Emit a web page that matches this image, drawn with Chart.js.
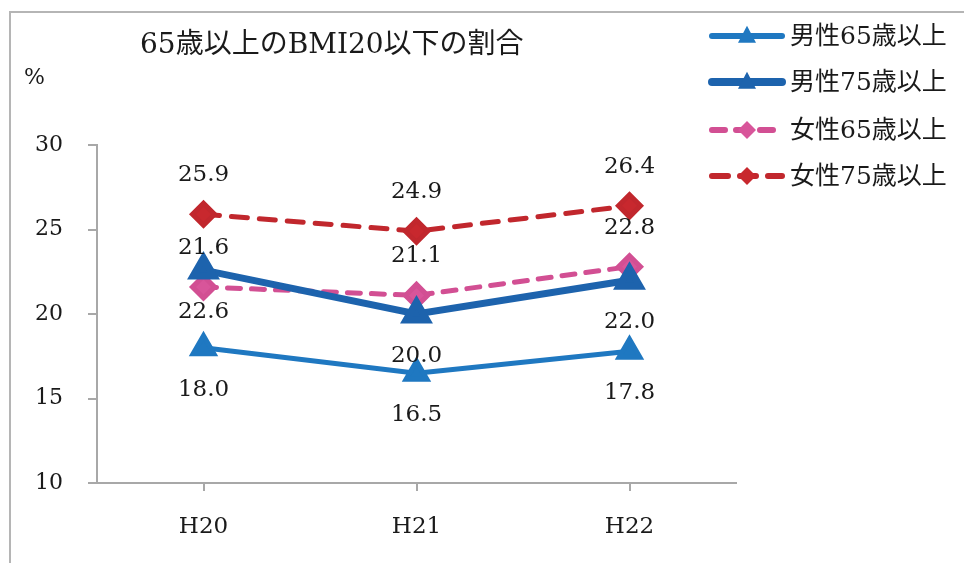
<!DOCTYPE html>
<html>
<head>
<meta charset="utf-8">
<script src="https://cdn.jsdelivr.net/npm/chart.js@4/dist/chart.umd.min.js"></script>
<style>
  html, body { margin: 0; padding: 0; background: #fff; }
  #wrap { width: 964px; height: 563px; }
</style>
</head>
<body>
<div id="wrap"><canvas id="c" width="964" height="563"></canvas></div>
<script>
// 年度ごとの割合 (%)
const years = ["H20", "H21", "H22"];
const male65 = [18.0, 16.5, 17.8];
const male75 = [22.6, 20.0, 22.0];
const female65 = [21.6, 21.1, 22.8];
const female75 = [25.9, 24.9, 26.4];
const yTicks = [10, 15, 20, 25, 30];

const chartTitle = "65歳以上のBMI20以下の割合";
const FONT = '"DejaVu Serif", "Noto Sans CJK JP", serif';

// values written next to each point
const valueLabels = {
    id: "valueLabels",
    afterDatasetsDraw(chart) {
        const ctx = chart.ctx;
        ctx.save();
        ctx.font = "23px " + FONT;
        ctx.fillStyle = "#1a1a1a";
        ctx.textAlign = "center";
        ctx.textBaseline = "middle";
        chart.data.datasets.forEach((ds, i) => {
            const meta = chart.getDatasetMeta(i);
            meta.data.forEach((pt, j) => {
                const dy = ds.labelPos === "above" ? -39 : 42;
                ctx.fillText(ds.data[j].toFixed(1), pt.x, pt.y + dy);
            });
        });
        ctx.restore();
    }
};

function marker(ctx, style, x, y, r, color) {
    ctx.fillStyle = color;
    ctx.beginPath();
    if (style === "triangle") {
        ctx.moveTo(x, y - r * 1.15);
        ctx.lineTo(x + r, y + r * 0.75);
        ctx.lineTo(x - r, y + r * 0.75);
    } else {
        ctx.moveTo(x, y - r);
        ctx.lineTo(x + r, y);
        ctx.lineTo(x, y + r);
        ctx.lineTo(x - r, y);
    }
    ctx.closePath();
    ctx.fill();
}

// frame, title, unit and legend
const decorations = {
    id: "decorations",
    beforeDraw(chart) {
        const ctx = chart.ctx;
        ctx.save();
        ctx.strokeStyle = "#b5b5b5";
        ctx.lineWidth = 2;
        ctx.beginPath();
        ctx.moveTo(10, 563);
        ctx.lineTo(10, 12);
        ctx.lineTo(964, 12);
        ctx.stroke();
        ctx.restore();
    },
    afterDraw(chart) {
        const ctx = chart.ctx;
        ctx.save();
        ctx.fillStyle = "#1a1a1a";
        ctx.textBaseline = "middle";
        ctx.font = "28px " + FONT;
        ctx.textAlign = "left";
        ctx.fillText(chartTitle, 140, 46);
        ctx.font = "22px " + FONT;
        ctx.fillText("%", 24, 78);

        const rows = [36, 82, 130, 176];
        chart.data.datasets.forEach((ds, i) => {
            const y = rows[i];
            ctx.strokeStyle = ds.borderColor;
            ctx.lineWidth = ds.borderWidth + 1;
            ctx.lineCap = "round";
            ctx.setLineDash(ds.borderDash || []);
            ctx.beginPath();
            ctx.moveTo(712, y);
            ctx.lineTo(782, y);
            ctx.stroke();
            ctx.setLineDash([]);
            marker(ctx, ds.pointStyle, 747, y, 9, ds.pointBackgroundColor);
            ctx.fillStyle = "#1a1a1a";
            ctx.font = "25px " + FONT;
            ctx.fillText(ds.label, 790, y + 1);
        });
        ctx.restore();
    }
};

new Chart(document.getElementById("c"), {
    type: "line",
    data: {
        labels: years,
        datasets: [
            {
                label: "男性65歳以上",
                data: male65,
                borderColor: "#1f78c1",
                pointBackgroundColor: "#1f78c1",
                borderWidth: 5,
                pointStyle: "triangle",
                pointRadius: 12,
                labelPos: "below"
            },
            {
                label: "男性75歳以上",
                data: male75,
                borderColor: "#1d63ad",
                pointBackgroundColor: "#1d63ad",
                borderWidth: 7,
                pointStyle: "triangle",
                pointRadius: 12,
                labelPos: "below"
            },
            {
                label: "女性65歳以上",
                data: female65,
                borderColor: "#d24f93",
                pointBackgroundColor: "#d8559a",
                borderWidth: 5,
                borderDash: [13, 11],
                pointStyle: "rectRot",
                pointRadius: 11,
                labelPos: "above"
            },
            {
                label: "女性75歳以上",
                data: female75,
                borderColor: "#c1272d",
                pointBackgroundColor: "#c8282e",
                borderWidth: 5,
                borderDash: [16, 12],
                pointStyle: "rectRot",
                pointRadius: 11,
                labelPos: "above"
            }
        ]
    },
    options: {
        responsive: false,
        animation: false,
        layout: { padding: { left: 0, right: 228, top: 145, bottom: 0 } },
        elements: {
            line: { tension: 0, borderCapStyle: "round" },
            point: { borderWidth: 0 }
        },
        scales: {
            x: {
                offset: true,
                afterFit(scale) { scale.height = 80; },
                border: { color: "#a8a8a8", width: 2 },
                grid: { drawOnChartArea: false, tickLength: 8, color: "#a8a8a8", lineWidth: 2 },
                ticks: { color: "#1a1a1a", font: { family: FONT, size: 23 }, padding: 22 }
            },
            y: {
                min: 10,
                max: 30,
                afterFit(scale) { scale.width = 97; },
                afterBuildTicks(scale) { scale.ticks = yTicks.map(v => ({ value: v })); },
                border: { color: "#a8a8a8", width: 2 },
                grid: { drawOnChartArea: false, tickLength: 9, color: "#a8a8a8", lineWidth: 2 },
                ticks: { color: "#1a1a1a", font: { family: FONT, size: 22 }, padding: 25 }
            }
        },
        plugins: {
            legend: { display: false },
            title: { display: false },
            tooltip: { enabled: false }
        }
    },
    plugins: [valueLabels, decorations]
});
</script>
</body>
</html>
